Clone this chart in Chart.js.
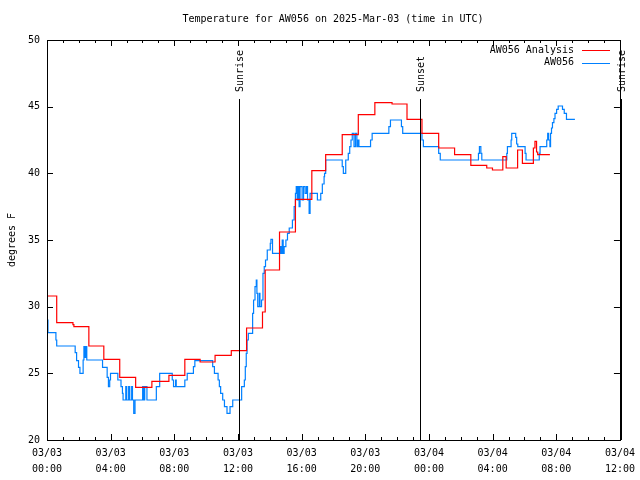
<!DOCTYPE html>
<html>
<head>
<meta charset="utf-8">
<script src="https://cdn.jsdelivr.net/npm/chart.js@4.4.1/dist/chart.umd.min.js"></script>
<style>
  body { margin: 0; background: #fff; }
  #wrap { width: 640px; height: 480px; }
</style>
</head>
<body>
<div id="wrap"><canvas id="c" width="640" height="480"></canvas></div>
<script>
// hours since 03/03 00:00 UTC, value takes effect at that hour (step plot)
const analysisHours = [0, 0.61, 1.63, 1.69, 2.63, 3.57, 4.57, 5.57, 6.59, 7.66, 8.66, 9.62, 10.56, 11.58,
  12.54, 13.54, 13.71, 14.61, 15.61, 16.64, 17.51, 18.55, 19.56, 20.6, 21.68, 22.62, 23.56, 24.61,
  25.61, 26.63, 27.63, 27.99, 28.64, 28.85, 29.57, 29.87, 30.56, 30.66, 30.76, 30.83, 31.6]
const analysisTemps = [30.8, 28.8, 28.65, 28.5, 27.05, 26.05, 24.7, 23.95, 24.4, 24.85, 26.05, 25.85, 26.35, 26.7,
  28.4, 29.6, 32.75, 35.6, 38.05, 40.2, 41.4, 42.9, 44.4, 45.3, 45.2, 44.05, 43.0, 41.9,
  41.4, 40.6, 40.4, 40.25, 41.25, 40.4, 41.75, 40.75, 41.9, 42.4, 41.6, 41.4, 41.4]

const obsHours = [0, 0.06, 0.56, 0.61, 1.77, 1.86, 1.98, 2.07, 2.27, 2.32, 2.38, 2.44, 2.5, 3.49, 3.78, 3.86,
  3.94, 3.99, 4.45, 4.65, 4.74, 4.78, 4.95, 5.01, 5.13, 5.2, 5.32, 5.37, 5.45, 5.53, 6.01, 6.07, 6.14,
  6.28, 6.87, 7.08, 7.87, 7.95, 8.08, 8.12, 8.66, 8.81, 9.2, 9.29, 10.41, 10.52, 10.75, 10.83, 10.91,
  11.04, 11.15, 11.31, 11.5, 11.67, 12.23, 12.4, 12.46, 12.52, 12.57, 12.65, 12.92, 12.98, 13.07, 13.15,
  13.19, 13.24, 13.34, 13.38, 13.48, 13.57, 13.65, 13.73, 13.84, 14.03, 14.07, 14.17, 14.65, 14.71,
  14.78, 14.84, 14.9, 15.01, 15.11, 15.22, 15.42, 15.53, 15.61, 15.66, 15.72, 15.78, 15.84, 15.9,
  16.03, 16.12, 16.22, 16.31, 16.37, 16.47, 16.53, 16.78, 16.99, 17.2, 17.3, 17.41, 17.44, 17.51,
  18.55, 18.62, 18.77, 18.93, 19.02, 19.1, 19.18, 19.29, 19.38, 19.47, 19.54, 19.6, 20.33, 20.43,
  21.48, 21.58, 22.27, 22.35, 23.56, 23.65, 24.61, 24.71, 27.11, 27.17, 27.26, 27.32, 28.89, 28.93,
  29.16, 29.2, 29.45, 29.51, 29.58, 30.04, 30.1, 30.93, 30.98, 31.4, 31.46, 31.52, 31.6, 31.64, 31.7,
  31.76, 31.85, 31.92, 32.02, 32.12, 32.39, 32.5, 32.64, 33.17]
const obsTemps = [29.0, 28.05, 27.5, 27.05, 26.55, 25.95, 25.45, 25.0, 26.0, 27.0, 26.2, 27.0, 26.0, 25.45, 24.7, 24.0,
  24.5, 25.0, 24.5, 24.0, 23.5, 23.0, 24.0, 23.0, 24.0, 23.0, 24.0, 23.0, 22.0, 23.0, 24.0, 23.0, 24.0,
  23.0, 24.0, 25.0, 24.5, 24.0, 24.5, 24.0, 24.5, 25.0, 25.5, 25.95, 25.5, 25.0, 24.5, 24.0, 23.5,
  23.0, 22.5, 22.0, 22.5, 23.0, 24.0, 24.5, 25.5, 26.5, 27.5, 28.0, 29.5, 30.5, 31.5, 32.0,
  31.0, 30.0, 31.0, 30.0, 30.5, 32.5, 33.0, 33.5, 34.25, 34.75, 35.05, 34.0, 34.5, 34.0,
  35.0, 34.0, 34.5, 35.0, 35.5, 35.9, 36.5, 37.5, 38.5, 39.0, 38.0, 39.0, 37.5, 39.0,
  38.0, 39.0, 38.5, 39.0, 38.0, 37.0, 38.5, 38.5, 38.0, 38.5, 39.2, 39.75, 40.0, 41.0,
  40.5, 40.0, 41.0, 41.5, 42.0, 42.5, 43.0, 42.0, 43.0, 42.0, 42.5, 42.0, 42.5, 43.0,
  43.5, 44.0, 43.5, 43.0, 42.5, 42.0, 41.5, 41.0, 41.5, 42.0, 41.5, 41.0, 41.5, 42.0,
  42.5, 43.0, 42.7, 42.2, 42.0, 41.5, 41.0, 41.5, 42.0, 42.5, 43.0, 42.5, 42.0, 43.0, 43.4,
  43.8, 44.1, 44.5, 44.8, 45.05, 44.8, 44.5, 44.05, 44.05]

const xTickLabels = [['03/03', '00:00'], ['03/03', '04:00'], ['03/03', '08:00'], ['03/03', '12:00'],
  ['03/03', '16:00'], ['03/03', '20:00'], ['03/04', '00:00'], ['03/04', '04:00'], ['03/04', '08:00'],
  ['03/04', '12:00']]

const eventNames = ['Sunrise', 'Sunset', 'Sunrise']
const eventHours = [12.08, 23.42, 36.06]

const toPoints = (xs, ys) => xs.map((x, i) => ({ x: x, y: ys[i] }))

// gnuplot look: box, inward ticks, sun lines, title, legend
const gnuplotBits = {
  id: 'gnuplotBits',
  afterDraw(chart) {
    const ctx = chart.ctx
    const a = chart.chartArea
    const xs = chart.scales.x
    const ys = chart.scales.y
    ctx.save()
    ctx.strokeStyle = '#000'
    ctx.lineWidth = 1
    ctx.strokeRect(Math.round(a.left) + 0.5, Math.round(a.top) + 0.5,
      Math.round(a.right - a.left), Math.round(a.bottom - a.top))

    ctx.beginPath()
    for (let h = 0; h <= 36; h++) {
      const px = Math.round(xs.getPixelForValue(h)) + 0.5
      const len = h % 4 === 0 ? 6 : 3
      ctx.moveTo(px, a.bottom); ctx.lineTo(px, a.bottom - len)
      ctx.moveTo(px, a.top); ctx.lineTo(px, a.top + len)
    }
    for (let t = 20; t <= 50; t += 5) {
      const py = Math.round(ys.getPixelForValue(t)) + 0.5
      ctx.moveTo(a.left, py); ctx.lineTo(a.left + 6, py)
      ctx.moveTo(a.right, py); ctx.lineTo(a.right - 6, py)
    }
    ctx.stroke()

    // sunrise / sunset markers
    ctx.font = '10px "DejaVu Sans Mono"'
    ctx.fillStyle = '#000'
    eventHours.forEach((h, i) => {
      const px = Math.round(xs.getPixelForValue(h)) + 0.5
      ctx.beginPath()
      ctx.moveTo(px, 99); ctx.lineTo(px, a.bottom)
      ctx.stroke()
      ctx.save()
      ctx.translate(px + 1, 92)
      ctx.rotate(-Math.PI / 2)
      ctx.textAlign = 'left'
      ctx.textBaseline = 'middle'
      ctx.fillText(eventNames[i], 0, 0)
      ctx.restore()
    })

    // title
    ctx.textAlign = 'center'
    ctx.textBaseline = 'middle'
    ctx.fillText('Temperature for AW056 on 2025-Mar-03 (time in UTC)', 333, 19)

    // y axis title
    ctx.save()
    ctx.translate(12, 240)
    ctx.rotate(-Math.PI / 2)
    ctx.fillText('degrees F', 0, 0)
    ctx.restore()

    // legend
    chart.data.datasets.forEach((ds, i) => {
      const y = 50 + i * 12.5
      ctx.textAlign = 'right'
      ctx.fillText(ds.label, 574, y)
      ctx.strokeStyle = ds.borderColor
      ctx.beginPath()
      ctx.moveTo(582, Math.round(y) + 0.5); ctx.lineTo(610, Math.round(y) + 0.5)
      ctx.stroke()
    })
    ctx.restore()
  }
}

Chart.defaults.font.family = '"DejaVu Sans Mono"'
Chart.defaults.font.size = 10
Chart.defaults.color = '#000'

new Chart(document.getElementById('c'), {
  type: 'line',
  plugins: [gnuplotBits],
  data: {
    datasets: [
      {
        label: 'AW056 Analysis',
        data: toPoints(analysisHours, analysisTemps),
        borderColor: '#ff0000',
        borderWidth: 1.2,
        stepped: 'before',
        pointRadius: 0
      },
      {
        label: 'AW056',
        data: toPoints(obsHours, obsTemps),
        borderColor: '#0080ff',
        borderWidth: 1.2,
        stepped: 'before',
        pointRadius: 0
      }
    ]
  },
  options: {
    responsive: false,
    animation: false,
    events: [],
    layout: { padding: { top: 40, right: 18, left: 0, bottom: 0 } },
    plugins: { legend: { display: false }, title: { display: false }, tooltip: { enabled: false } },
    scales: {
      x: {
        type: 'linear',
        min: 0,
        max: 36,
        grid: { display: false, drawTicks: false },
        border: { display: false },
        ticks: {
          stepSize: 4,
          maxRotation: 0,
          autoSkip: false,
          padding: 5,
          font: { lineHeight: 1.6 },
          callback: (v) => xTickLabels[v / 4]
        },
        afterFit: (s) => { s.height = 40 }
      },
      y: {
        min: 20,
        max: 50,
        grid: { display: false, drawTicks: false },
        border: { display: false },
        ticks: { stepSize: 5, padding: 7 },
        afterFit: (s) => { s.width = 47 }
      }
    }
  }
})
</script>
</body>
</html>
